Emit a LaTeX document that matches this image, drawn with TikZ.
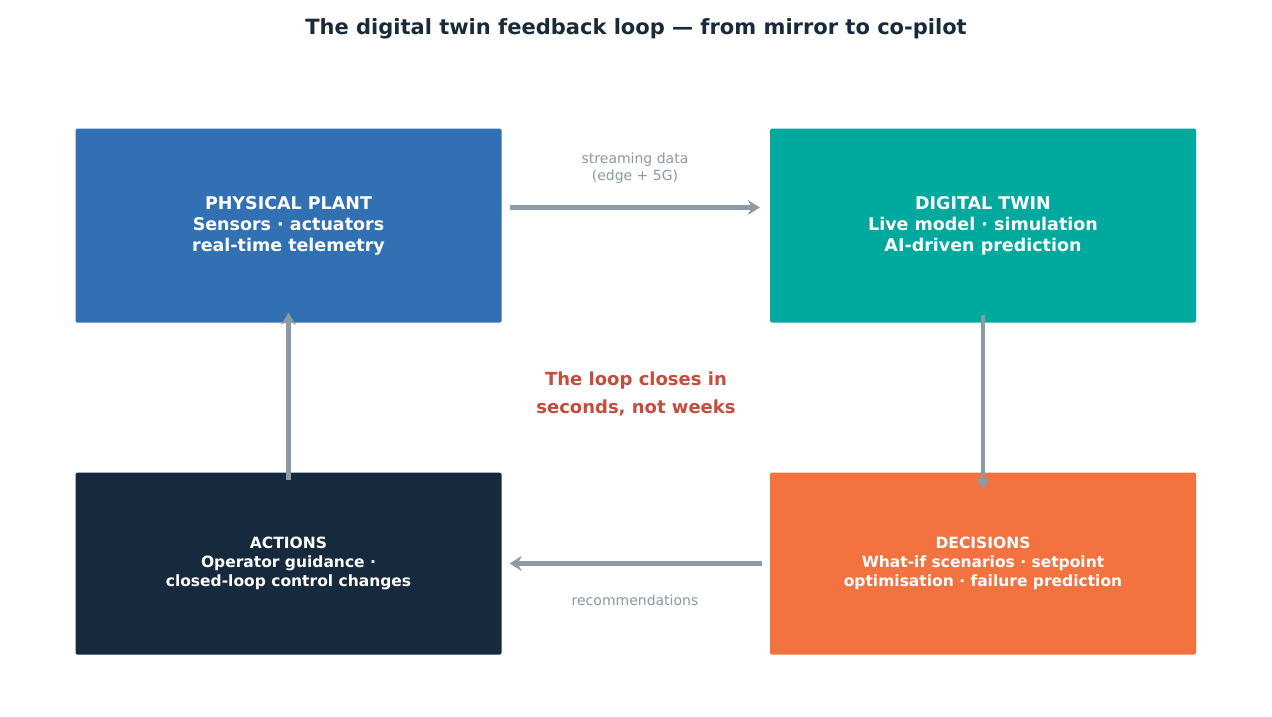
\documentclass[tikz,border=0pt]{standalone}
\usepackage{fontspec}
\setmainfont{DejaVu Sans}
\usetikzlibrary{arrows.meta}
\definecolor{cblue}{HTML}{3070B3}
\definecolor{cteal}{HTML}{00A99D}
\definecolor{cdark}{HTML}{17293D}
\definecolor{corange}{HTML}{F37240}
\definecolor{cgray}{HTML}{8C99A6}
\definecolor{cred}{HTML}{C84C3E}
\definecolor{ctitle}{HTML}{1A2A3D}
\begin{document}
\begin{tikzpicture}[x=1pt,y=-1pt,
 box/.style={draw=none,rounded corners=1.5pt,text=white,font=\bfseries,align=center,inner sep=0pt},
 big/.style={font=\fontsize{17.5}{21}\selectfont\bfseries},
 small/.style={font=\fontsize{15.5}{19}\selectfont\bfseries},
 arr/.style={draw=cgray,line width=4.5pt,-{Stealth[length=12pt,width=15pt,inset=4pt]}},
 lab/.style={text=cgray,font=\fontsize{14}{17}\selectfont,align=center}]
\useasboundingbox (0,0) rectangle (1272,716);
\fill[white] (0,0) rectangle (1272,716);
\node[text=ctitle,font=\fontsize{21}{25}\selectfont\bfseries] (title) at (636,29) {The digital twin feedback loop — from mirror to co-pilot};
\node[box,fill=cblue,minimum width=426pt,minimum height=194pt,big] (pp) at (288.5,225.5) {PHYSICAL PLANT\\Sensors · actuators\\real-time telemetry};
\node[box,fill=cteal,minimum width=426pt,minimum height=194pt,big] (dt) at (983,225.5) {DIGITAL TWIN\\Live model · simulation\\AI-driven prediction};
\node[box,fill=cdark,minimum width=426pt,minimum height=182pt,small] (ac) at (288.5,563.5) {ACTIONS\\Operator guidance ·\\closed-loop control changes};
\node[box,fill=corange,minimum width=426pt,minimum height=182pt,small] (de) at (983,563.5) {DECISIONS\\What-if scenarios · setpoint\\optimisation · failure prediction};
\coordinate (a1) at ([yshift=18pt,xshift=8pt]pp.east);
\coordinate (a2) at ([yshift=18pt,xshift=-10pt]dt.west);
\draw[arr] (a1) -- (a2);
\coordinate (b1) at ([yshift=8pt]dt.south);
\coordinate (b2) at ([yshift=-17pt]de.north);
\draw[arr] (b1) -- (b2);
\coordinate (c1) at ([xshift=-8pt]de.west);
\coordinate (c2) at ([xshift=8pt]ac.west -| ac.east);
\draw[arr] (c1) -- (c2);
\coordinate (d1) at ([yshift=-8pt]ac.north);
\coordinate (d2) at ([yshift=10pt]pp.south);
\draw[arr] (d1) -- (d2);
\node[lab] (l1) at (635,168) {streaming data\\(edge + 5G)};
\node[lab] (l2) at (635,600) {recommendations};
\node[text=cred,align=center,font=\fontsize{18}{28}\selectfont\bfseries] (mid) at (636,394) {The loop closes in\\seconds, not weeks};
\end{tikzpicture}
\end{document}
